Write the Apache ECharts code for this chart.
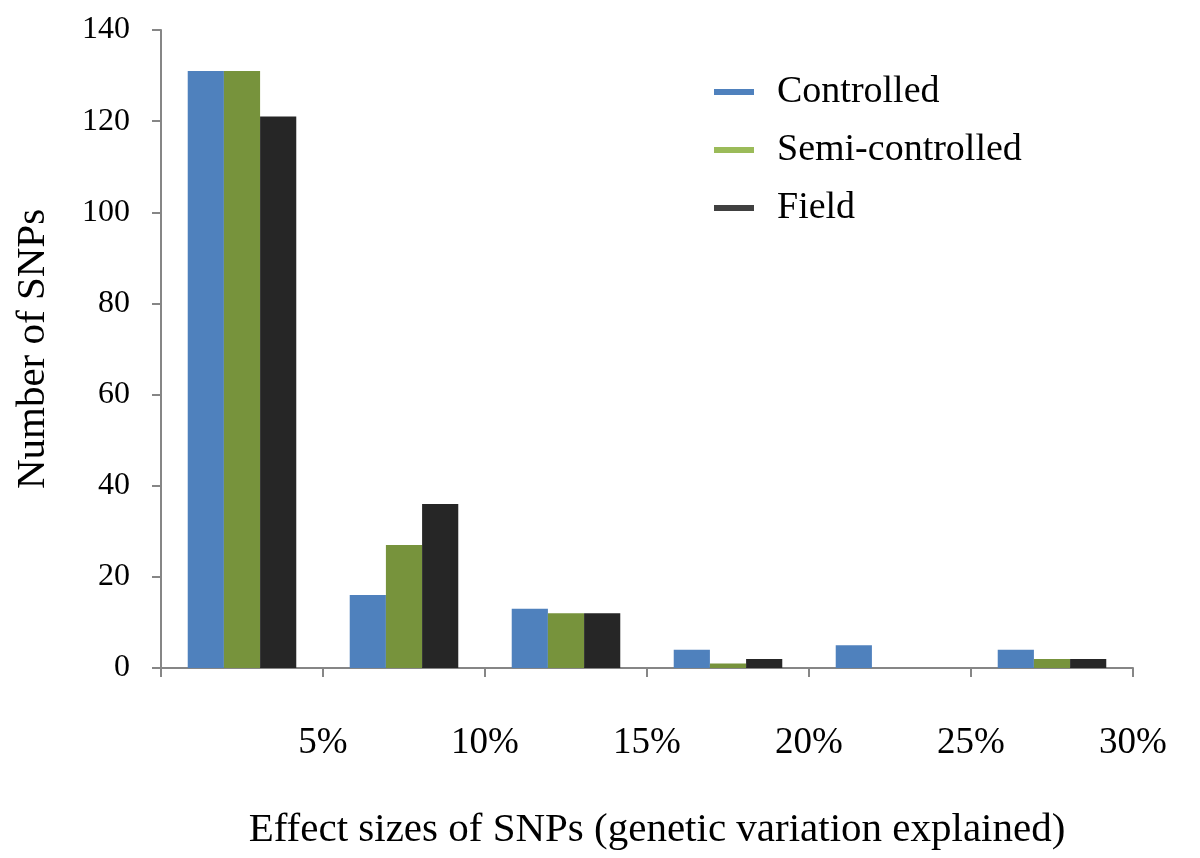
<!DOCTYPE html>
<html>
<head>
<meta charset="utf-8">
<script src="https://cdn.jsdelivr.net/npm/echarts@6/dist/echarts.min.js"></script>
<style>html,body{margin:0;padding:0;background:#fff}#c{width:1200px;height:858px}</style>
</head>
<body>
<div id="c"></div>
<script>
var categories = ['0-5%', '5-10%', '10-15%', '15-20%', '20-25%', '25-30%'];
var tickLabels = ['', '5%', '10%', '15%', '20%', '25%', '30%'];
var controlled = [131, 16, 13, 4, 5, 4];
var semiControlled = [131, 27, 12, 1, 0, 2];
var field = [121, 36, 12, 2, 0, 2];
var seriesNames = ['Controlled', 'Semi-controlled', 'Field'];

var FONT = '"Liberation Serif", "Times New Roman", serif';
var axisGrey = '#868686';
var chart = echarts.init(document.getElementById('c'));
chart.setOption({
  animation: false,
  backgroundColor: '#fff',
  grid: {left: 161, right: 67, top: 30, bottom: 190},
  legend: {
    orient: 'vertical',
    left: 714, top: 73, padding: 0,
    itemWidth: 40, itemHeight: 6, itemGap: 20,
    icon: 'rect',
    textStyle: {fontFamily: FONT, fontSize: 38, lineHeight: 38, color: '#000', padding: [0, 0, 0, 18]},
    data: [
      {name: seriesNames[0], itemStyle: {color: '#4F81BD'}},
      {name: seriesNames[1], itemStyle: {color: '#9BBB59'}},
      {name: seriesNames[2], itemStyle: {color: '#404040'}}
    ]
  },
  xAxis: [
    {
      type: 'category', data: categories, position: 'bottom',
      axisLine: {show: false}, axisTick: {show: false}, axisLabel: {show: false}
    },
    {
      type: 'category', data: tickLabels, boundaryGap: false, position: 'bottom',
      axisLine: {show: true, lineStyle: {color: axisGrey, width: 2}},
      axisTick: {show: true, length: 9, lineStyle: {color: axisGrey, width: 2}},
      axisLabel: {fontFamily: FONT, fontSize: 37, color: '#000', margin: 57, interval: 0},
      name: 'Effect sizes of SNPs (genetic variation explained)',
      nameLocation: 'middle', nameGap: 142,
      nameTextStyle: {fontFamily: FONT, fontSize: 41, color: '#000', padding: [0, 0, 0, 20]}
    }
  ],
  yAxis: {
    type: 'value', min: 0, max: 140, interval: 20,
    splitLine: {show: false},
    axisLine: {show: true, lineStyle: {color: axisGrey, width: 2}},
    axisTick: {show: true, length: 9, lineStyle: {color: axisGrey, width: 2}},
    axisLabel: {fontFamily: FONT, fontSize: 32, color: '#000', margin: 31},
    name: 'Number of SNPs', nameLocation: 'middle', nameGap: 107, nameRotate: 90,
    nameTextStyle: {fontFamily: FONT, fontSize: 41, color: '#000'}
  },
  series: [
    {name: seriesNames[0], type: 'bar', data: controlled, xAxisIndex: 0, barGap: '0%', barCategoryGap: '33%', itemStyle: {color: '#4F81BD'}},
    {name: seriesNames[1], type: 'bar', data: semiControlled, xAxisIndex: 0, barGap: '0%', barCategoryGap: '33%', itemStyle: {color: '#77933C'}},
    {name: seriesNames[2], type: 'bar', data: field, xAxisIndex: 0, barGap: '0%', barCategoryGap: '33%', itemStyle: {color: '#262626'}}
  ]
});
</script>
</body>
</html>
